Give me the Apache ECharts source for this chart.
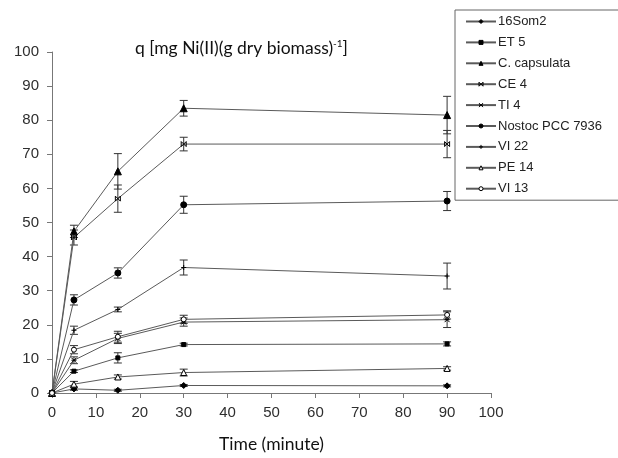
<!DOCTYPE html>
<html>
<head>
<meta charset="utf-8">
<script src="https://cdn.jsdelivr.net/npm/echarts@6/dist/echarts.min.js"></script>
<style>
html, body { margin: 0; padding: 0; background: #fff; }
#chart { width: 618px; height: 458px; }
</style>
</head>
<body>
<div id="chart"></div>
<script>
// time points (minute)
const timePoints = [0, 5, 15, 30, 90]
const axisTicks = [0, 10, 20, 30, 40, 50, 60, 70, 80, 90, 100]

const seriesNames = ['16Som2', 'ET 5', 'C. capsulata', 'CE 4', 'TI 4', 'Nostoc PCC 7936', 'VI 22', 'PE 14', 'VI 13']

// q values, one array per strain
const q16Som2 = [0, 1.2, 0.8, 2.2, 2.1]
const qET5 = [0, 6.4, 10.3, 14.2, 14.4]
const qCcaps = [0, 47.4, 65, 83.5, 81.5]
const qCE4 = [0, 45.6, 57, 73, 73]
const qTI4 = [0, 9.6, 16, 20.8, 21.5]
const qNostoc = [0, 27.3, 35.2, 55.2, 56.3]
const qVI22 = [0, 18.4, 24.5, 36.8, 34.3]
const qPE14 = [0, 2.6, 4.7, 6.0, 7.2]
const qVI13 = [0, 12.7, 16.5, 21.6, 22.9]

// standard deviations (error bars)
const e16Som2 = [0, 0.4, 0.3, 0.3, 0.3]
const eET5 = [0, 0.4, 1.5, 0.4, 0.6]
const eCcaps = [0, 1.8, 5.2, 2.3, 5.5]
const eCE4 = [0, 2.2, 4, 2, 4]
const eTI4 = [0, 1, 1.5, 1.2, 2.3]
const eNostoc = [0, 1.5, 1.5, 2.5, 2.8]
const eVI22 = [0, 1.2, 0.7, 2.2, 3.8]
const ePE14 = [0, 0.8, 0.6, 1.0, 0.5]
const eVI13 = [0, 1.2, 1.6, 1.2, 1.2]

const allValues = [q16Som2, qET5, qCcaps, qCE4, qTI4, qNostoc, qVI22, qPE14, qVI13]
const allErrors = [e16Som2, eET5, eCcaps, eCE4, eTI4, eNostoc, eVI22, ePE14, eVI13]

const symbols = [
    'diamond', 'rect', 'triangle',
    'path://M0,0L10,10M10,0L0,10M0,0L0,10M10,0L10,10',
    'path://M0,0L10,10M10,0L0,10M0,5L10,5',
    'circle',
    'path://M5,0L5,10M0,5L10,5',
    'triangle', 'circle'
]
const symbolSizes = [6, 4, 7, 5, 5, 6, 5, 6, 5]
const symbolFills = ['#000', '#000', '#000', '#000', '#000', '#000', '#000', '#fff', '#fff']

const chart = echarts.init(document.getElementById('chart'))

const lineSeries = seriesNames.map((name, i) => {
    return {
        name: name,
        type: 'line',
        data: timePoints.map((t, j) => [t, allValues[i][j]]),
        symbol: symbols[i],
        symbolSize: symbolSizes[i],
        showSymbol: true,
        color: '#000',
        lineStyle: { color: '#5a5a5a', width: 1 },
        itemStyle: { color: symbolFills[i], borderColor: '#000', borderWidth: 1 },
        z: 3
    }
})

// error bars, drawn through the axis scales
const errorSeries = seriesNames.map((name, i) => {
    return {
        type: 'custom',
        data: timePoints.map((t, j) => [t, allValues[i][j] - allErrors[i][j], allValues[i][j] + allErrors[i][j]])
            .filter((d, j) => allErrors[i][j] > 0),
        renderItem: (params, api) => {
            const lo = api.coord([api.value(0), api.value(1)])
            const hi = api.coord([api.value(0), api.value(2)])
            const cap = 4
            const st = { stroke: '#333', lineWidth: 1 }
            return {
                type: 'group',
                children: [
                    { type: 'line', shape: { x1: lo[0], y1: lo[1], x2: hi[0], y2: hi[1] }, style: st },
                    { type: 'line', shape: { x1: lo[0] - cap, y1: lo[1], x2: lo[0] + cap, y2: lo[1] }, style: st },
                    { type: 'line', shape: { x1: hi[0] - cap, y1: hi[1], x2: hi[0] + cap, y2: hi[1] }, style: st }
                ]
            }
        },
        silent: true,
        z: 2
    }
})

const legendData = seriesNames.map((name, i) => ({
    name: name,
    itemStyle: { color: symbolFills[i], borderColor: '#000', borderWidth: 1 }
}))

const axisLabelStyle = { color: '#2e2e2e', fontFamily: 'Liberation Sans', fontSize: 15 }

const option = {
    animation: false,
    backgroundColor: '#fff',
    title: {
        text: '{a|q [mg Ni(II)(g dry biomass)}{b|-1}{a|]}',
        left: 130,
        top: 34,
        textStyle: {
            rich: {
                a: { fontFamily: 'Lato', fontSize: 17.5, fontWeight: 'normal', color: '#111' },
                b: { fontFamily: 'Lato', fontSize: 10, fontWeight: 'normal', color: '#111', padding: [0, 0, 9, 0] }
            }
        }
    },
    legend: {
        data: legendData,
        orient: 'vertical',
        left: 455,
        top: 10,
        itemWidth: 30,
        itemHeight: 5,
        itemGap: 7.9,
        padding: [5, 45, 5, 10],
        borderColor: '#666',
        borderWidth: 1,
        textStyle: { fontFamily: 'Liberation Sans', fontSize: 13, color: '#222', padding: [0, 0, 0, -3] }
    },
    grid: { left: 52, top: 52, width: 439, height: 348, containLabel: false },
    xAxis: {
        type: 'value',
        min: axisTicks[0],
        max: axisTicks[axisTicks.length - 1],
        interval: 10,
        name: 'Time (minute)',
        nameLocation: 'middle',
        nameGap: 42,
        nameTextStyle: { fontFamily: 'Lato', fontSize: 17.5, color: '#111' },
        axisLine: { lineStyle: { color: '#777', width: 1 } },
        axisTick: { inside: false, length: 5, lineStyle: { color: '#777' } },
        axisLabel: Object.assign({ margin: 12 }, axisLabelStyle),
        splitLine: { show: false }
    },
    yAxis: {
        type: 'value',
        min: axisTicks[0],
        max: axisTicks[axisTicks.length - 1],
        interval: 10,
        axisLine: { show: true, lineStyle: { color: '#777', width: 1 } },
        axisTick: { show: true, inside: false, length: 5, lineStyle: { color: '#777' } },
        axisLabel: Object.assign({ margin: 13 }, axisLabelStyle),
        splitLine: { show: false }
    },
    series: errorSeries.concat(lineSeries)
}

chart.setOption(option)
</script>
</body>
</html>
